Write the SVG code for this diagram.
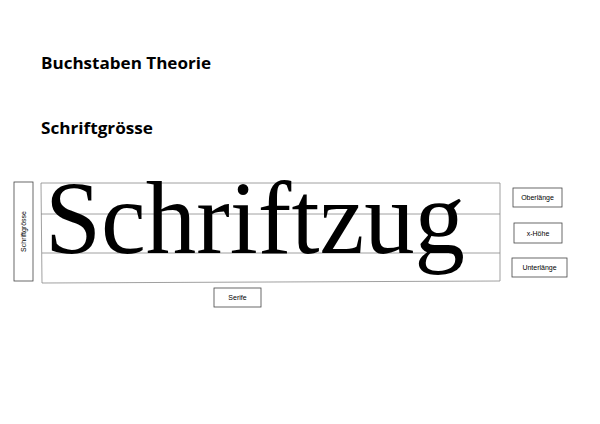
<svg xmlns="http://www.w3.org/2000/svg" width="600" height="424" viewBox="0 0 600 424">
<style>
.h{font-family:"Open Sans","Liberation Sans",sans-serif;font-weight:bold;font-size:16px;fill:#000}
.lbl{font-family:"Liberation Sans",Arial,sans-serif;font-size:7px;fill:#000;text-anchor:middle}
.box{fill:#fff;stroke:#444;stroke-width:0.8}
.guide{fill:none;stroke:#888;stroke-width:0.8}
</style>
<rect width="600" height="424" fill="#fff"/>
<text class="h" x="41" y="69" textLength="170" lengthAdjust="spacingAndGlyphs">Buchstaben Theorie</text>
<text class="h" x="41" y="134" textLength="112" lengthAdjust="spacingAndGlyphs">Schriftgrösse</text>
<g id="connectors">
<path class="guide" d="M41 183 L500 183 L500 281 L42 283 Z"/>
<line class="guide" x1="41" y1="214" x2="500" y2="214"/>
<line class="guide" x1="42" y1="253" x2="500" y2="253"/>
</g>
<g id="schriftzug">
<text x="45" y="253" font-family="'Liberation Serif','Times New Roman',serif" font-size="103" textLength="420" lengthAdjust="spacingAndGlyphs">Schriftzug</text>
</g>
<g id="schriftgroesse">
<rect class="box" x="14" y="182" width="19" height="99"/>
<text class="lbl" transform="translate(25.5 231.5) rotate(-90)">Schriftgrösse</text>
</g>
<g id="oberlaenge">
<rect class="box" x="513" y="188" width="49" height="19"/>
<text class="lbl" x="537.5" y="200">Oberlänge</text>
</g>
<g id="xhoehe">
<rect class="box" x="514" y="223" width="48" height="20"/>
<text class="lbl" x="538" y="235.5">x-Höhe</text>
</g>
<g id="unterlaenge">
<rect class="box" x="512" y="258" width="55" height="19"/>
<text class="lbl" x="539.5" y="270">Unterlänge</text>
</g>
<g id="serife">
<rect class="box" x="214" y="288" width="47" height="19"/>
<text class="lbl" x="237.5" y="300">Serife</text>
</g>
</svg>
